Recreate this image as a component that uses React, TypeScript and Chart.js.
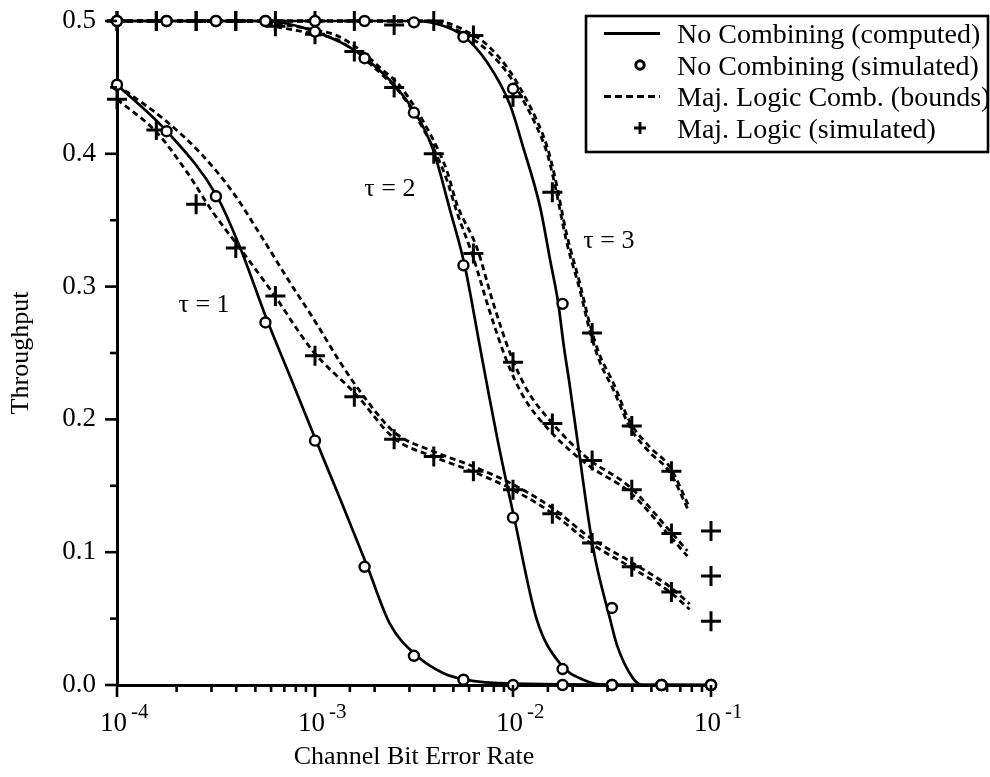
import { useEffect, useRef } from 'react';
import { Chart, registerables } from 'chart.js';

Chart.register(...registerables);

const SERIF = '"Liberation Serif", "Times New Roman", Times, serif';

// ---------------- data ----------------
// x positions of the simulated points
const circleX = [1e-4, 1.78e-4, 3.16e-4, 5.62e-4, 1e-3, 1.78e-3, 3.16e-3, 5.62e-3, 1e-2, 1.78e-2, 3.16e-2, 5.62e-2, 1e-1];
const crossX = [1e-4, 1.58e-4, 2.51e-4, 3.98e-4, 6.31e-4, 1e-3, 1.58e-3, 2.51e-3, 3.98e-3, 6.31e-3, 1e-2, 1.58e-2, 2.51e-2, 3.98e-2, 6.31e-2, 1e-1];

// No Combining (simulated)
const circleT1 = [0.452, 0.417, 0.368, 0.273, 0.184, 0.089, 0.022, 0.004, 0, 0, 0, 0, 0];
const circleT2 = [0.5, 0.5, 0.5, 0.5, 0.492, 0.472, 0.431, 0.316, 0.126, 0.012, 0, 0, 0];
const circleT3 = [0.5, 0.5, 0.5, 0.5, 0.5, 0.5, 0.499, 0.488, 0.449, 0.287, 0.058, 0, 0];

// Maj. Logic (simulated)
const crossT1 = [0.441, 0.418, 0.362, 0.329, 0.293, 0.248, 0.217, 0.185, 0.172, 0.161, 0.147, 0.129, 0.107, 0.089, 0.070, 0.048];
const crossT2 = [0.5, 0.5, 0.5, 0.5, 0.496, 0.49, 0.477, 0.45, 0.40, 0.325, 0.243, 0.197, 0.169, 0.147, 0.114, 0.082];
const crossT3 = [0.5, 0.5, 0.5, 0.5, 0.5, 0.5, 0.5, 0.497, 0.5, 0.489, 0.443, 0.371, 0.265, 0.195, 0.161, 0.116];

// No Combining (computed)
const solidT1X = [1e-4, 1.81e-4, 3.2e-4, 4.17e-4, 5.72e-4, 7.74e-4, 1e-3, 1.34e-3, 1.83e-3, 2.39e-3, 3.27e-3, 4.43e-3, 5.7e-3, 1e-2, 1e-1];
const solidT1Y = [0.452, 0.416, 0.368, 0.330, 0.275, 0.227, 0.186, 0.140, 0.090, 0.046, 0.022, 0.009, 0.004, 0.001, 0];
const solidT2X = [1e-4, 5.6e-4, 1e-3, 1.8e-3, 3.2e-3, 3.95e-3, 4.8e-3, 5.7e-3, 6.8e-3, 7.5e-3, 8.4e-3, 1.02e-2, 1.32e-2, 1.73e-2, 2.26e-2, 3e-2, 1e-1];
const solidT2Y = [0.5, 0.5, 0.492, 0.472, 0.431, 0.403, 0.358, 0.316, 0.255, 0.221, 0.183, 0.124, 0.049, 0.016, 0.004, 0, 0];
const solidT3X = [1e-4, 3.2e-3, 4.5e-3, 5.7e-3, 7.4e-3, 9.66e-3, 1.12e-2, 1.37e-2, 1.54e-2, 1.69e-2, 1.81e-2, 1.92e-2, 2.13e-2, 2.54e-2, 3.1e-2, 3.35e-2, 4.04e-2, 4.5e-2, 1e-1];
const solidT3Y = [0.5, 0.5, 0.496, 0.488, 0.469, 0.437, 0.406, 0.36, 0.32, 0.288, 0.254, 0.229, 0.181, 0.103, 0.049, 0.030, 0.005, 0, 0];

// Maj. Logic Comb. (bounds) - two bounds per tau
const boundT1aX = [1e-4, 1.59e-4, 2.26e-4, 3.05e-4, 4.17e-4, 6.13e-4, 9.7e-4, 1.63e-3, 2.5e-3, 3.95e-3, 6.2e-3, 1e-2, 1.59e-2, 2.45e-2, 3.9e-2, 6.2e-2, 7.8e-2];
const boundT1aY = [0.441, 0.416, 0.386, 0.356, 0.329, 0.295, 0.252, 0.218, 0.186, 0.172, 0.161, 0.147, 0.129, 0.107, 0.089, 0.070, 0.057];
const boundT1bX = [1e-4, 1.79e-4, 2.62e-4, 3.85e-4, 5.4e-4, 7.48e-4, 1e-3, 1.34e-3, 1.79e-3, 2.53e-3, 3.95e-3, 6.2e-3, 1e-2, 1.59e-2, 2.45e-2, 3.9e-2, 6.2e-2, 7.8e-2];
const boundT1bY = [0.452, 0.424, 0.401, 0.371, 0.337, 0.303, 0.274, 0.243, 0.216, 0.19, 0.176, 0.165, 0.151, 0.133, 0.111, 0.093, 0.074, 0.061];
const boundT2aX = [1e-4, 5e-4, 6.3e-4, 1.02e-3, 1.29e-3, 1.69e-3, 2.2e-3, 2.69e-3, 3.94e-3, 4.64e-3, 5.21e-3, 6.3e-3, 7.6e-3, 9.3e-3, 1.13e-2, 1.5e-2, 2.37e-2, 3.9e-2, 6.2e-2, 7.6e-2];
const boundT2aY = [0.5, 0.5, 0.496, 0.49, 0.486, 0.474, 0.459, 0.446, 0.405, 0.38, 0.356, 0.322, 0.282, 0.244, 0.217, 0.193, 0.166, 0.145, 0.112, 0.097];
const boundT2bX = [1e-4, 5e-4, 6.3e-4, 1.02e-3, 1.29e-3, 1.69e-3, 2.2e-3, 2.69e-3, 3.94e-3, 4.64e-3, 5.21e-3, 6.58e-3, 7.93e-3, 9.66e-3, 1.18e-2, 1.54e-2, 2.37e-2, 3.9e-2, 6.2e-2, 7.6e-2];
const boundT2bY = [0.5, 0.5, 0.498, 0.493, 0.489, 0.478, 0.463, 0.451, 0.411, 0.387, 0.362, 0.329, 0.288, 0.25, 0.222, 0.199, 0.171, 0.149, 0.116, 0.101];
const boundT3aX = [1e-4, 3.5e-3, 4.5e-3, 5.86e-3, 7.4e-3, 9.66e-3, 1.12e-2, 1.32e-2, 1.49e-2, 1.62e-2, 1.87e-2, 2.18e-2, 2.45e-2, 2.75e-2, 3.2e-2, 3.9e-2, 4.92e-2, 6.21e-2, 7.66e-2];
const boundT3aY = [0.5, 0.5, 0.497, 0.489, 0.478, 0.458, 0.441, 0.42, 0.4, 0.378, 0.333, 0.297, 0.266, 0.243, 0.223, 0.194, 0.175, 0.16, 0.132];
const boundT3bX = [1e-4, 3.5e-3, 4.5e-3, 5.86e-3, 7.4e-3, 9.66e-3, 1.12e-2, 1.32e-2, 1.49e-2, 1.62e-2, 1.87e-2, 2.18e-2, 2.45e-2, 2.75e-2, 3.2e-2, 3.9e-2, 4.92e-2, 6.21e-2, 7.66e-2];
const boundT3bY = [0.5, 0.5, 0.499, 0.492, 0.482, 0.462, 0.446, 0.425, 0.405, 0.384, 0.339, 0.302, 0.271, 0.248, 0.228, 0.198, 0.179, 0.164, 0.136];

// texts
const legendLabels = ['No Combining (computed)', 'No Combining (simulated)', 'Maj. Logic Comb. (bounds)', 'Maj. Logic (simulated)'];
const tauLabels = ['\u03c4 = 1', '\u03c4 = 2', '\u03c4 = 3'];
const tauAnchorX = [2.75e-4, 2.39e-3, 3.05e-2];
const tauAnchorY = [0.286, 0.373, 0.334];
const xTitle = 'Channel Bit Error Rate';
const yTitle = 'Throughput';

// ---------------- helpers ----------------
const pts = (xs: number[], ys: number[]) => xs.map((x, i) => ({ x, y: ys[i] }));

const lineDs = (label: string, xs: number[], ys: number[], dashed: boolean) => ({
  type: 'line' as const,
  label,
  data: pts(xs, ys),
  borderColor: '#000',
  borderWidth: dashed ? 2.8 : 2.7,
  borderDash: dashed ? [6, 4] : [],
  pointRadius: 0,
  fill: false,
  cubicInterpolationMode: 'monotone' as const,
  clip: false as any,
  order: 3,
});

const circleDs = (label: string, ys: number[]) => ({
  type: 'line' as const,
  label,
  data: pts(circleX, ys),
  showLine: false,
  pointStyle: 'circle' as const,
  pointRadius: 5,
  pointBackgroundColor: '#fff',
  pointBorderColor: '#000',
  pointBorderWidth: 2.4,
  clip: false as any,
  order: 0,
});

const crossDs = (label: string, ys: number[]) => ({
  type: 'line' as const,
  label,
  data: pts(crossX, ys),
  showLine: false,
  pointStyle: 'cross' as const,
  pointRadius: 10,
  pointBorderColor: '#000',
  pointBorderWidth: 3,
  clip: false as any,
  order: 1,
});

const decorPlugin = {
  id: 'decor',
  afterDraw(chart: any) {
    const { ctx, chartArea, scales } = chart;
    const x = scales.x;
    const y = scales.y;
    ctx.save();
    ctx.strokeStyle = '#000';
    ctx.fillStyle = '#000';
    ctx.lineWidth = 2.6;
    ctx.lineCap = 'butt';

    // y ticks: major at scale ticks, minor at midpoints
    const yv = y.ticks.map((t: any) => t.value);
    yv.forEach((v: number, i: number) => {
      const py = y.getPixelForValue(v);
      ctx.beginPath();
      ctx.moveTo(chartArea.left - 12, py);
      ctx.lineTo(chartArea.left, py);
      ctx.stroke();
      if (i < yv.length - 1) {
        const pm = y.getPixelForValue((v + yv[i + 1]) / 2);
        ctx.beginPath();
        ctx.moveTo(chartArea.left - 7, pm);
        ctx.lineTo(chartArea.left, pm);
        ctx.stroke();
      }
    });

    // x ticks (log) and decade labels
    x.ticks.forEach((t: any) => {
      const px = x.getPixelForValue(t.value);
      const exp = Math.log10(t.value);
      const major = Math.abs(exp - Math.round(exp)) < 1e-6;
      ctx.beginPath();
      ctx.moveTo(px, chartArea.bottom);
      ctx.lineTo(px, chartArea.bottom + (major ? 12 : 7));
      ctx.stroke();
      if (major) {
        ctx.textBaseline = 'alphabetic';
        ctx.font = `27px ${SERIF}`;
        ctx.textAlign = 'right';
        ctx.fillText('10', px + 10, chartArea.bottom + 46);
        ctx.font = `21px ${SERIF}`;
        ctx.textAlign = 'left';
        ctx.fillText(`-${-Math.round(exp)}`, px + 14, chartArea.bottom + 33);
      }
    });

    // tau annotations
    ctx.font = `26px ${SERIF}`;
    ctx.textAlign = 'center';
    ctx.textBaseline = 'middle';
    tauLabels.forEach((txt, i) => {
      ctx.fillText(txt, x.getPixelForValue(tauAnchorX[i]), y.getPixelForValue(tauAnchorY[i]));
    });

    // legend box
    const bx = 585, by = 15, bw = 404, bh = 138;
    ctx.lineWidth = 2.6;
    ctx.strokeRect(bx + 1, by + 1, bw - 2, bh - 2);
    const baselines = [43, 74.5, 106, 137.5];
    ctx.font = `28px ${SERIF}`;
    ctx.textAlign = 'left';
    ctx.textBaseline = 'alphabetic';
    legendLabels.forEach((txt, i) => {
      const b = baselines[i];
      const my = b - 9.5;
      ctx.fillText(txt, 677, b);
      ctx.save();
      if (i === 0 || i === 2) {
        ctx.lineWidth = 2.8;
        ctx.setLineDash(i === 2 ? [7, 4] : []);
        ctx.beginPath();
        ctx.moveTo(604, my);
        ctx.lineTo(660, my);
        ctx.stroke();
      } else if (i === 1) {
        ctx.lineWidth = 3;
        ctx.beginPath();
        ctx.arc(640, my, 4.2, 0, Math.PI * 2);
        ctx.stroke();
      } else {
        ctx.lineWidth = 2.8;
        ctx.beginPath();
        ctx.moveTo(634, my);
        ctx.lineTo(646, my);
        ctx.moveTo(640, my - 6);
        ctx.lineTo(640, my + 6);
        ctx.stroke();
      }
      ctx.restore();
    });
    ctx.restore();
  },
};

export default function App() {
  const ref = useRef<HTMLCanvasElement | null>(null);
  useEffect(() => {
    if (!ref.current) return;
    const chart = new Chart(ref.current, {
      type: 'line',
      data: {
        datasets: [
          lineDs('No Combining (computed) \u03c4=1', solidT1X, solidT1Y, false),
          lineDs('No Combining (computed) \u03c4=2', solidT2X, solidT2Y, false),
          lineDs('No Combining (computed) \u03c4=3', solidT3X, solidT3Y, false),
          lineDs('Maj. Logic Comb. lower \u03c4=1', boundT1aX, boundT1aY, true),
          lineDs('Maj. Logic Comb. upper \u03c4=1', boundT1bX, boundT1bY, true),
          lineDs('Maj. Logic Comb. lower \u03c4=2', boundT2aX, boundT2aY, true),
          lineDs('Maj. Logic Comb. upper \u03c4=2', boundT2bX, boundT2bY, true),
          lineDs('Maj. Logic Comb. lower \u03c4=3', boundT3aX, boundT3aY, true),
          lineDs('Maj. Logic Comb. upper \u03c4=3', boundT3bX, boundT3bY, true),
          crossDs('Maj. Logic (simulated) \u03c4=1', crossT1),
          crossDs('Maj. Logic (simulated) \u03c4=2', crossT2),
          crossDs('Maj. Logic (simulated) \u03c4=3', crossT3),
          circleDs('No Combining (simulated) \u03c4=1', circleT1),
          circleDs('No Combining (simulated) \u03c4=2', circleT2),
          circleDs('No Combining (simulated) \u03c4=3', circleT3),
        ] as any,
      },
      options: {
        animation: false,
        responsive: false,
        events: [],
        layout: { padding: { top: 21, right: 279, left: 0, bottom: 0 } },
        plugins: { legend: { display: false }, tooltip: { enabled: false } },
        scales: {
          x: {
            type: 'logarithmic',
            min: 1e-4,
            max: 1e-1,
            grid: { display: false },
            border: { display: true, color: '#000', width: 3 },
            ticks: { display: false },
            title: {
              display: true,
              text: xTitle,
              color: '#000',
              font: { family: SERIF, size: 26 },
              padding: { top: 0, bottom: 4 },
            },
            afterFit: (s: any) => {
              s.height = 92;
              s.paddingLeft = 0;
              s.paddingRight = 0;
            },
          },
          y: {
            type: 'linear',
            min: 0,
            max: 0.5,
            grid: { display: false },
            border: { display: true, color: '#000', width: 3 },
            ticks: {
              stepSize: 0.1,
              padding: 13,
              color: '#000',
              font: { family: SERIF, size: 27 },
              callback: (v: any) => Number(v).toFixed(1),
            },
            title: {
              display: true,
              text: yTitle,
              color: '#000',
              font: { family: SERIF, size: 26 },
              padding: { top: 6, bottom: 0 },
            },
            afterFit: (s: any) => {
              s.width = 117;
              s.paddingTop = 0;
              s.paddingBottom = 0;
            },
          },
        },
      } as any,
      plugins: [decorPlugin],
    });
    return () => chart.destroy();
  }, []);

  return (
    <div style={{ position: 'absolute', left: 0, top: 0, width: 990, height: 777, background: '#fff' }}>
      <canvas ref={ref} width={990} height={777} style={{ display: 'block' }} />
    </div>
  );
}
